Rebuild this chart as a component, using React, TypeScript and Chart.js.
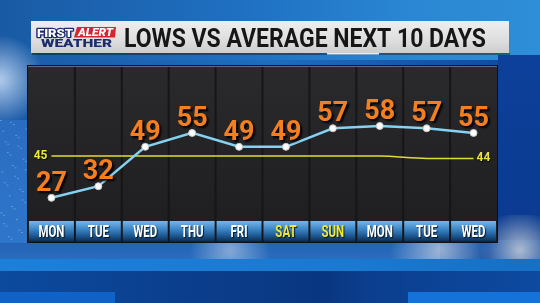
import React, { useEffect, useRef } from "react";
import { Chart, registerables } from "chart.js";

Chart.register(...registerables);

const days = ["MON", "TUE", "WED", "THU", "FRI", "SAT", "SUN", "MON", "TUE", "WED"];
const lows = [27, 32, 49, 55, 49, 49, 57, 58, 57, 55];
const averages = [45, 45, 45, 45, 45, 45, 45, 45, 44, 44];
const weekendIdx = [5, 6];
const titleText = "LOWS VS AVERAGE NEXT 10 DAYS";
const yMin = 17;
const yMax = 83;

function scaledText(ctx: CanvasRenderingContext2D, text: string, x: number, y: number, sx: number, align: CanvasTextAlign) {
  ctx.save();
  ctx.translate(x, y);
  ctx.scale(sx, 1);
  ctx.textAlign = align;
  ctx.fillText(text, 0, 0);
  ctx.restore();
}

const backdropPlugin = {
  id: "backdrop",
  beforeDraw(chart: any) {
    const ctx: CanvasRenderingContext2D = chart.ctx;
    const W = chart.width;
    const H = chart.height;
    const xs = chart.scales.x;
    const area = chart.chartArea;
    ctx.save();
    let g = ctx.createLinearGradient(0, 0, W, 0);
    g.addColorStop(0, "#1b5aa6");
    g.addColorStop(0.5, "#1f6cbd");
    g.addColorStop(1, "#0f469c");
    ctx.fillStyle = g;
    ctx.fillRect(0, 0, W, H);
    g = ctx.createLinearGradient(0, 0, W, 0);
    g.addColorStop(0, "#1a5aa4");
    g.addColorStop(0.45, "#1f70c2");
    g.addColorStop(0.75, "#2a86d2");
    g.addColorStop(1, "#2f8ed8");
    ctx.fillStyle = g;
    ctx.fillRect(0, 0, W, 60);
    let rg = ctx.createRadialGradient(0, 80, 2, 0, 80, 45);
    rg.addColorStop(0, "rgba(220,235,255,0.75)");
    rg.addColorStop(1, "rgba(220,235,255,0)");
    ctx.fillStyle = rg;
    ctx.fillRect(0, 30, 60, 110);
    g = ctx.createLinearGradient(0, 120, 0, 260);
    g.addColorStop(0, "#2a6cc0");
    g.addColorStop(1, "#2f78cc");
    ctx.fillStyle = g;
    ctx.fillRect(0, 120, 30, 140);
    ctx.fillStyle = "rgba(200,225,255,0.35)";
    for (let i = 0; i < 40; i++) {
      const px = (i * 7.3) % 26;
      const py = 120 + ((i * 23.7) % 125);
      ctx.fillRect(px, py, 2, 1);
    }
    g = ctx.createLinearGradient(0, 60, 0, 240);
    g.addColorStop(0, "#0d409a");
    g.addColorStop(1, "#0a3a90");
    ctx.fillStyle = g;
    ctx.fillRect(498, 55, W - 498, 185);
    rg = ctx.createRadialGradient(520, 250, 2, 520, 250, 40);
    rg.addColorStop(0, "rgba(190,200,215,0.85)");
    rg.addColorStop(1, "rgba(190,200,215,0)");
    ctx.fillStyle = rg;
    ctx.fillRect(440, 215, 100, 50);
    g = ctx.createLinearGradient(0, 243, 0, 260);
    g.addColorStop(0, "#2462b4");
    g.addColorStop(1, "#2a6ec0");
    ctx.fillStyle = g;
    ctx.fillRect(0, 243, 440, 17);
    rg = ctx.createRadialGradient(230, 250, 2, 230, 250, 40);
    rg.addColorStop(0, "rgba(200,215,235,0.55)");
    rg.addColorStop(1, "rgba(200,215,235,0)");
    ctx.fillStyle = rg;
    ctx.fillRect(170, 240, 120, 20);
    rg = ctx.createRadialGradient(440, 250, 2, 440, 250, 50);
    rg.addColorStop(0, "rgba(200,210,225,0.7)");
    rg.addColorStop(1, "rgba(200,210,225,0)");
    ctx.fillStyle = rg;
    ctx.fillRect(390, 238, 110, 22);
    g = ctx.createLinearGradient(0, 0, W, 0);
    g.addColorStop(0, "#1c7fd8");
    g.addColorStop(0.6, "#1a7ad2");
    g.addColorStop(1, "#1670c4");
    ctx.fillStyle = g;
    ctx.fillRect(0, 259, W, 12);
    g = ctx.createLinearGradient(0, 0, W, 0);
    g.addColorStop(0, "#0c4a9e");
    g.addColorStop(0.6, "#0a3680");
    g.addColorStop(0.68, "#0b3e8e");
    g.addColorStop(1, "#0d4aa0");
    ctx.fillStyle = g;
    ctx.fillRect(0, 271, W, H - 271);
    ctx.fillStyle = "#1062c6";
    ctx.fillRect(0, 292, 115, H - 292);
    ctx.fillStyle = "#1572d8";
    ctx.fillRect(408, 292, W - 408, H - 292);

    // title bar
    ctx.fillStyle = "rgba(0,0,0,0.35)";
    ctx.fillRect(32, 53, 478, 2);
    g = ctx.createLinearGradient(0, 21, 0, 53);
    g.addColorStop(0, "#eeeeee");
    g.addColorStop(0.6, "#dedede");
    g.addColorStop(1, "#cdcdcd");
    ctx.fillStyle = g;
    ctx.fillRect(31, 21, 478, 32);
    ctx.fillStyle = "rgba(255,255,255,0.9)";
    ctx.fillRect(327, 53, 52, 1.5);

    // logo
    ctx.textBaseline = "alphabetic";
    ctx.font = "900 11px Roboto";
    let w = ctx.measureText("FIRST").width;
    ctx.save();
    ctx.translate(37, 36.5);
    ctx.scale(36 / w, 1);
    ctx.lineWidth = 2.5;
    ctx.strokeStyle = "#1b2b6e";
    ctx.lineJoin = "round";
    ctx.strokeText("FIRST", 0, 0);
    ctx.fillStyle = "#ffffff";
    ctx.fillText("FIRST", 0, 0);
    ctx.restore();
    ctx.fillStyle = "#d4262e";
    ctx.beginPath();
    ctx.moveTo(77, 27);
    ctx.lineTo(116, 27);
    ctx.lineTo(115, 37.5);
    ctx.lineTo(74, 37.5);
    ctx.closePath();
    ctx.fill();
    ctx.font = "italic 900 10px Roboto";
    w = ctx.measureText("ALERT").width;
    ctx.fillStyle = "#ffffff";
    scaledText(ctx, "ALERT", 78, 36, 35 / w, "left");
    ctx.font = "900 11px Roboto";
    w = ctx.measureText("WEATHER").width;
    ctx.fillStyle = "#1c2c6c";
    scaledText(ctx, "WEATHER", 41, 46.5, 71 / w, "left");

    // title
    ctx.font = "bold 25px Roboto";
    w = ctx.measureText(titleText).width;
    ctx.fillStyle = "#161616";
    scaledText(ctx, titleText, 124, 46.5, 362 / w, "left");

    // panel
    const pl = area.left;
    const pr = area.right;
    ctx.fillStyle = "#101012";
    ctx.fillRect(pl - 1, 65, pr - pl + 2, 178);
    g = ctx.createLinearGradient(0, 66, 0, 221);
    g.addColorStop(0, "#2a2a2d");
    g.addColorStop(1, "#1f1f21");
    ctx.fillStyle = g;
    ctx.fillRect(pl, 66, pr - pl, 176);
    ctx.fillStyle = "rgba(150,175,210,0.5)";
    ctx.fillRect(pl, 66, pr - pl, 1);
    const cw = (pr - pl) / days.length;
    ctx.fillStyle = "#161618";
    for (let i = 1; i < days.length; i++) {
      ctx.fillRect(pl + i * cw - 1, 67, 2, 175);
    }
    for (let i = 0; i < days.length; i++) {
      const cx = xs.getPixelForValue(i);
      const x0 = cx - cw / 2 + 1;
      const cg = ctx.createLinearGradient(0, 221, 0, 241);
      cg.addColorStop(0, "#78b6e6");
      cg.addColorStop(0.4, "#3d88c8");
      cg.addColorStop(0.75, "#1c5690");
      cg.addColorStop(1, "#0f2f55");
      ctx.fillStyle = cg;
      ctx.fillRect(x0, 221, cw - 2, 20);
    }
    ctx.restore();
  },
  afterDatasetsDraw(chart: any) {
    const ctx: CanvasRenderingContext2D = chart.ctx;
    const xs = chart.scales.x;
    const ys = chart.scales.y;
    ctx.save();
    ctx.font = "bold 16px Roboto";
    ctx.textBaseline = "alphabetic";
    const sx = 26 / ctx.measureText("MON").width;
    days.forEach((d, i) => {
      const cx = xs.getPixelForValue(i);
      ctx.shadowColor = "rgba(0,0,0,0.8)";
      ctx.shadowOffsetX = 1;
      ctx.shadowOffsetY = 1;
      ctx.shadowBlur = 1;
      ctx.fillStyle = weekendIdx.includes(i) ? "#f2ea2e" : "#ffffff";
      scaledText(ctx, d, cx, 237, sx, "center");
    });
    ctx.font = "bold 27px Roboto";
    lows.forEach((v, i) => {
      const cx = xs.getPixelForValue(i);
      const cy = ys.getPixelForValue(v);
      ctx.shadowColor = "rgba(0,0,0,0.95)";
      ctx.shadowOffsetX = 2;
      ctx.shadowOffsetY = 2;
      ctx.shadowBlur = 2;
      ctx.fillStyle = "#f57f1e";
      scaledText(ctx, String(v), cx, cy - 7, 1, "center");
    });
    ctx.shadowColor = "rgba(0,0,0,0.8)";
    ctx.shadowOffsetX = 1;
    ctx.shadowOffsetY = 1;
    ctx.shadowBlur = 1;
    ctx.font = "bold 12px Roboto";
    ctx.fillStyle = "#ece63a";
    ctx.textBaseline = "middle";
    const first = 0;
    const last = averages.length - 1;
    scaledText(ctx, String(averages[first]), xs.getPixelForValue(first) - 4, ys.getPixelForValue(averages[first]), 1, "right");
    scaledText(ctx, String(averages[last]), xs.getPixelForValue(last) + 3, ys.getPixelForValue(averages[last]), 1, "left");
    ctx.restore();
  },
};

export default function App() {
  const ref = useRef<HTMLCanvasElement>(null);
  useEffect(() => {
    if (!ref.current) return;
    const chart = new Chart(ref.current, {
      type: "line",
      data: {
        labels: days,
        datasets: [
          {
            data: lows,
            borderColor: "#86d2f2",
            borderWidth: 2.5,
            pointRadius: 3.5,
            pointBackgroundColor: "#ffffff",
            pointBorderColor: "#c8c8c8",
            pointBorderWidth: 1,
            tension: 0,
          },
          {
            data: averages,
            borderColor: "#e2dc34",
            borderWidth: 1.5,
            pointRadius: 0,
            cubicInterpolationMode: "monotone",
          },
        ],
      },
      options: {
        responsive: false,
        animation: false,
        devicePixelRatio: 1,
        layout: { padding: { left: 28, right: 43, top: 68, bottom: 82 } },
        plugins: { legend: { display: false }, tooltip: { enabled: false }, title: { display: false } },
        scales: {
          x: { type: "category", display: false, offset: true },
          y: { type: "linear", display: false, min: yMin, max: yMax },
        },
      },
      plugins: [backdropPlugin],
    });
    return () => chart.destroy();
  }, []);
  return (
    <div style={{ position: "absolute", left: 0, top: 0, width: 540, height: 303 }}>
      <canvas ref={ref} width={540} height={303} style={{ display: "block", width: 540, height: 303 }} />
    </div>
  );
}
